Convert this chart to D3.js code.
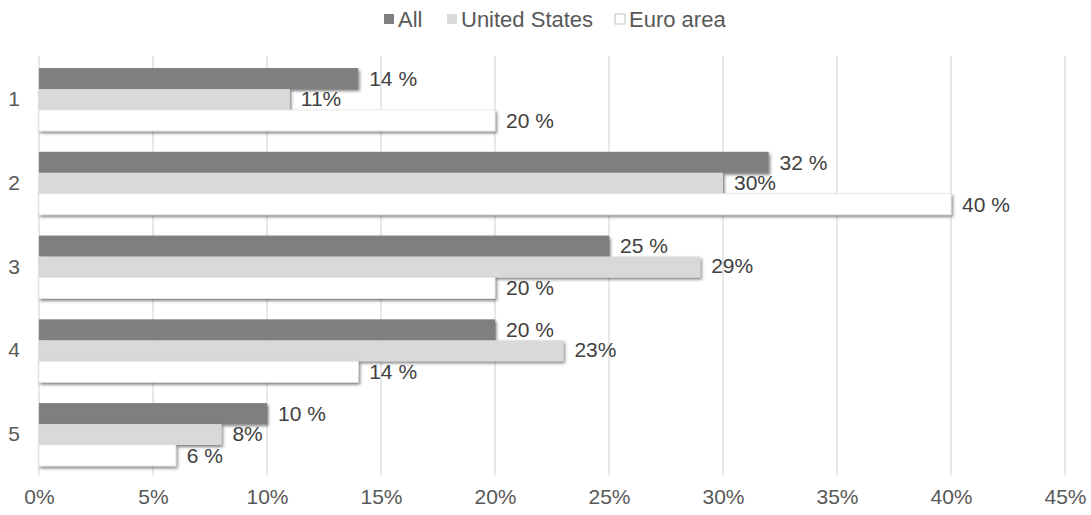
<!DOCTYPE html>
<html>
<head>
<meta charset="utf-8">
<script src="https://cdn.jsdelivr.net/npm/d3@7"></script>
<style>
  body { margin: 0; background: #fff; }
  text { font-family: "Liberation Sans", Arial, sans-serif; }
</style>
</head>
<body>
<div class="container"></div>
<script>
// data
const categories = ["1", "2", "3", "4", "5"];
const seriesNames = ["All", "United States", "Euro area"];
const allValues = [14, 32, 25, 20, 10];
const usValues = [11, 30, 29, 23, 8];
const euroValues = [20, 40, 20, 14, 6];
const xTicks = [0, 5, 10, 15, 20, 25, 30, 35, 40, 45];

const colors = ["#7f7f7f", "#d9d9d9", "#ffffff"];
// labels: All and Euro have a space before %, US doesn't
const labelFmt = [v => v + " %", v => v + "%", v => v + " %"];

const width = 1091;
const height = 515;
const plotLeft = 39, plotRight = 1065, plotTop = 57.6, plotBottom = 476.4;

const rows = categories.map((c, i) => ({
  cat: c,
  vals: [allValues[i], usValues[i], euroValues[i]]
}));

const svg = d3.select("div.container")
  .append("svg")
  .attr("width", width)
  .attr("height", height);

// shadow under the bars
const defs = svg.append("defs");
defs.append("filter").attr("id", "shadow")
  .attr("x", "-5%").attr("y", "-30%").attr("width", "110%").attr("height", "170%")
  .append("feDropShadow")
  .attr("dx", 1.5).attr("dy", 2).attr("stdDeviation", 1.4)
  .attr("flood-color", "#000").attr("flood-opacity", 0.5);

const xScale = d3.scaleLinear().domain([0, 45]).range([plotLeft, plotRight]);
const yScale = d3.scaleBand().domain(categories).range([plotTop, plotBottom])
  .paddingInner(0.25).paddingOuter(0.125);
const ySub = d3.scaleBand().domain(seriesNames).range([0, yScale.bandwidth()]);

// gridlines
svg.append("g")
  .selectAll("line").data(xTicks).enter().append("line")
  .attr("x1", d => xScale(d)).attr("x2", d => xScale(d))
  .attr("y1", plotTop - 1.5).attr("y2", plotBottom - 1)
  .attr("stroke", "#d9d9d9").attr("stroke-width", 1.2);

// x axis labels
const xAxis = d3.axisBottom(xScale).tickValues(xTicks).tickFormat(d => d + "%").tickSize(0).tickPadding(0);
const gx = svg.append("g").attr("transform", `translate(0,${plotBottom})`).call(xAxis);
gx.select(".domain").remove();
gx.selectAll("text")
  .attr("dy", null).attr("y", 28)
  .attr("font-size", 21).attr("fill", "#595959")
  .attr("font-family", "Liberation Sans, Arial, sans-serif");

// y axis labels
const yAxis = d3.axisLeft(yScale).tickSize(0).tickPadding(0);
const gy = svg.append("g").attr("transform", `translate(${plotLeft},0)`).call(yAxis);
gy.select(".domain").remove();
gy.selectAll("text")
  .attr("x", -19).attr("font-size", 21).attr("fill", "#595959")
  .attr("font-family", "Liberation Sans, Arial, sans-serif");

// bars
const groups = svg.selectAll("g.cat").data(rows).enter().append("g")
  .attr("class", "cat")
  .attr("transform", d => `translate(0,${yScale(d.cat)})`);

groups.selectAll("rect").data(d => d.vals.map((v, j) => ({ v, j }))).enter().append("rect")
  .attr("x", xScale(0))
  .attr("y", d => ySub(seriesNames[d.j]))
  .attr("width", d => xScale(d.v) - xScale(0))
  .attr("height", ySub.bandwidth())
  .attr("fill", d => colors[d.j])
  .attr("stroke", d => d.j === 2 ? "#e6e6e6" : "none")
  .attr("stroke-width", 0.8)
  .attr("filter", "url(#shadow)");

groups.selectAll("text.lbl").data(d => d.vals.map((v, j) => ({ v, j }))).enter().append("text")
  .attr("class", "lbl")
  .attr("x", d => xScale(d.v) + 11)
  .attr("y", d => ySub(seriesNames[d.j]) + ySub.bandwidth() / 2 - (d.j === 1 ? 1 : 0))
  .attr("dy", "0.35em")
  .attr("font-size", 21)
  .attr("fill", "#404040")
  .text(d => labelFmt[d.j](d.v));

// legend
const legendX = [384, 447, 615];
const legend = svg.append("g");
seriesNames.forEach((name, i) => {
  legend.append("rect")
    .attr("x", legendX[i]).attr("y", 14)
    .attr("width", 10).attr("height", 10)
    .attr("fill", colors[i])
    .attr("stroke", i === 2 ? "#bfbfbf" : "none").attr("stroke-width", 1);
  legend.append("text")
    .attr("x", legendX[i] + 14).attr("y", 19).attr("dy", "0.35em")
    .attr("font-size", 22).attr("fill", "#595959")
    .text(name);
});
</script>
</body>
</html>
